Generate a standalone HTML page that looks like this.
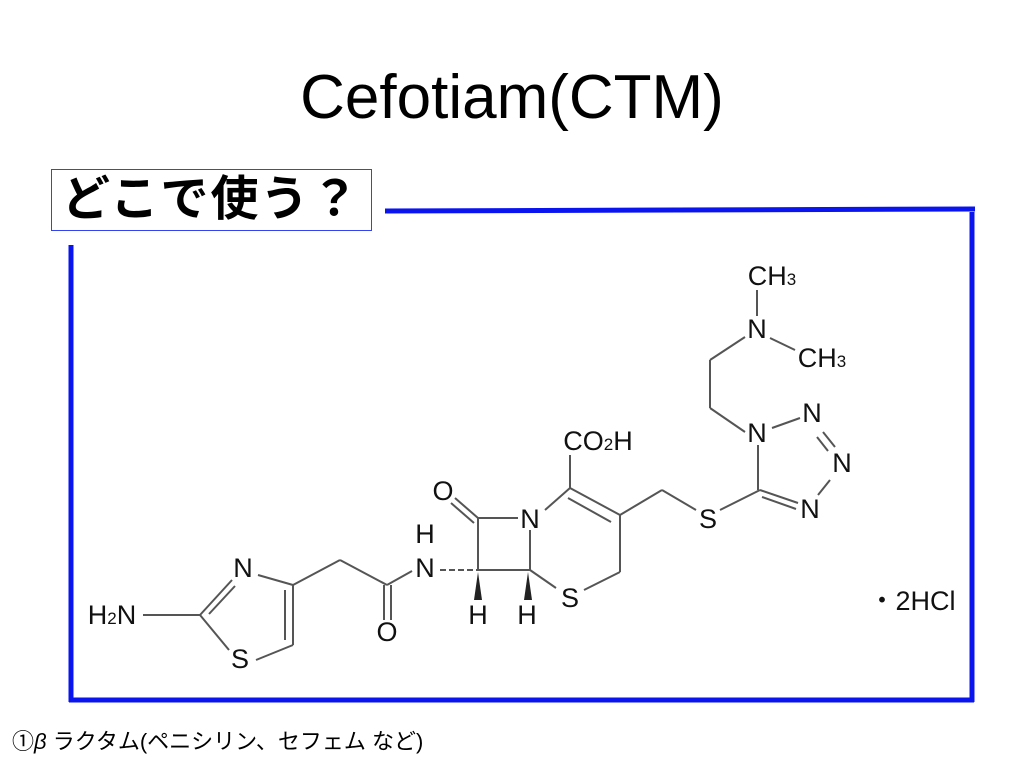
<!DOCTYPE html>
<html><head><meta charset="utf-8"><style>
body{margin:0;width:1024px;height:768px;background:#fff;position:relative;overflow:hidden;font-family:"Liberation Sans","Noto Sans CJK JP",sans-serif}
.t{position:absolute;left:0;width:1024px;text-align:center;top:58px;font-size:62px;line-height:80px;color:#000}
.box{position:absolute;left:51px;top:169px;width:309px;height:60px;border:1px solid #3344ee;font-weight:bold;font-size:48px;line-height:60px;padding-left:10px;box-sizing:content-box;letter-spacing:2px;white-space:nowrap}
.ft{position:absolute;left:12px;top:727px;font-size:22px;line-height:30px}
svg{position:absolute;left:0;top:0}
</style></head><body>
<div class="t">Cefotiam(CTM)</div>
<div class="box">どこで使う？</div>
<div class="ft">①<i>β</i> ラクタム(ペニシリン、セフェム など)</div>
<svg width="1024" height="768" font-family="Liberation Sans, sans-serif">
<g stroke="#0a14ee" stroke-width="5" fill="none">
<line x1="385" y1="211" x2="975" y2="209"/>
<line x1="972" y1="212" x2="972" y2="702"/>
<line x1="69" y1="700" x2="974" y2="700"/>
<line x1="71" y1="245" x2="71" y2="702"/>
</g>
<g stroke="#555" stroke-width="2" fill="none">
<line x1="143" y1="615" x2="200" y2="615"/>
<line x1="200" y1="615" x2="232" y2="580"/>
<line x1="209" y1="614" x2="235" y2="586"/>
<line x1="258" y1="575" x2="293" y2="585"/>
<line x1="293" y1="585" x2="293" y2="645"/>
<line x1="285" y1="590" x2="285" y2="640"/>
<line x1="293" y1="645" x2="256" y2="660"/>
<line x1="229" y1="650" x2="200" y2="615"/>
<line x1="293" y1="585" x2="340" y2="560"/>
<line x1="340" y1="560" x2="387" y2="585"/>
<line x1="384" y1="585" x2="384" y2="620"/>
<line x1="391" y1="585" x2="391" y2="620"/>
<line x1="387" y1="585" x2="412" y2="571"/>
<line x1="440" y1="570" x2="478" y2="570" stroke-dasharray="6,3"/>
<line x1="478" y1="570" x2="478" y2="518"/>
<line x1="478" y1="518" x2="455" y2="498"/>
<line x1="474" y1="523" x2="451" y2="503"/>
<line x1="478" y1="518" x2="518" y2="518"/>
<line x1="530" y1="530" x2="530" y2="570"/>
<line x1="478" y1="570" x2="530" y2="570"/>
<line x1="530" y1="570" x2="556" y2="588"/>
<line x1="584" y1="590" x2="620" y2="572"/>
<line x1="620" y1="572" x2="620" y2="515"/>
<line x1="620" y1="515" x2="570" y2="488"/>
<line x1="611" y1="522" x2="568" y2="498"/>
<line x1="545" y1="510" x2="570" y2="488"/>
<line x1="570" y1="488" x2="570" y2="455"/>
<line x1="620" y1="515" x2="662" y2="490"/>
<line x1="662" y1="490" x2="696" y2="510"/>
<line x1="720" y1="510" x2="760" y2="490"/>
<line x1="760" y1="490" x2="798" y2="503"/>
<line x1="762" y1="497" x2="796" y2="509"/>
<line x1="818" y1="495" x2="830" y2="480"/>
<line x1="835" y1="447" x2="823" y2="432"/>
<line x1="828" y1="451" x2="817" y2="437"/>
<line x1="800" y1="418" x2="772" y2="428"/>
<line x1="758" y1="445" x2="758" y2="490"/>
<line x1="745" y1="432" x2="710" y2="408"/>
<line x1="710" y1="408" x2="710" y2="360"/>
<line x1="710" y1="360" x2="745" y2="337"/>
<line x1="757" y1="316" x2="757" y2="290"/>
<line x1="770" y1="338" x2="795" y2="350"/>
</g>
<polygon points="478,572 474,600 482,600" fill="#222"/>
<polygon points="528,572 524,600 532,600" fill="#222"/>
<g font-size="27" fill="#111" text-anchor="middle">
<text x="112" y="624">H<tspan font-size="17">2</tspan>N</text>
<text x="243" y="577">N</text>
<text x="240" y="668">S</text>
<text x="387" y="641">O</text>
<text x="425" y="543">H</text>
<text x="425" y="577">N</text>
<text x="443" y="500">O</text>
<text x="530" y="528">N</text>
<text x="478" y="624">H</text>
<text x="527" y="624">H</text>
<text x="570" y="607">S</text>
<text x="598" y="450">CO<tspan font-size="17">2</tspan>H</text>
<text x="708" y="528">S</text>
<text x="810" y="518">N</text>
<text x="842" y="472">N</text>
<text x="812" y="422">N</text>
<text x="757" y="442">N</text>
<text x="757" y="338">N</text>
<text x="772" y="285">CH<tspan font-size="17">3</tspan></text>
<text x="822" y="367">CH<tspan font-size="17">3</tspan></text>
<text x="912" y="610">・2HCl</text>
</g>
</svg>
</body></html>
